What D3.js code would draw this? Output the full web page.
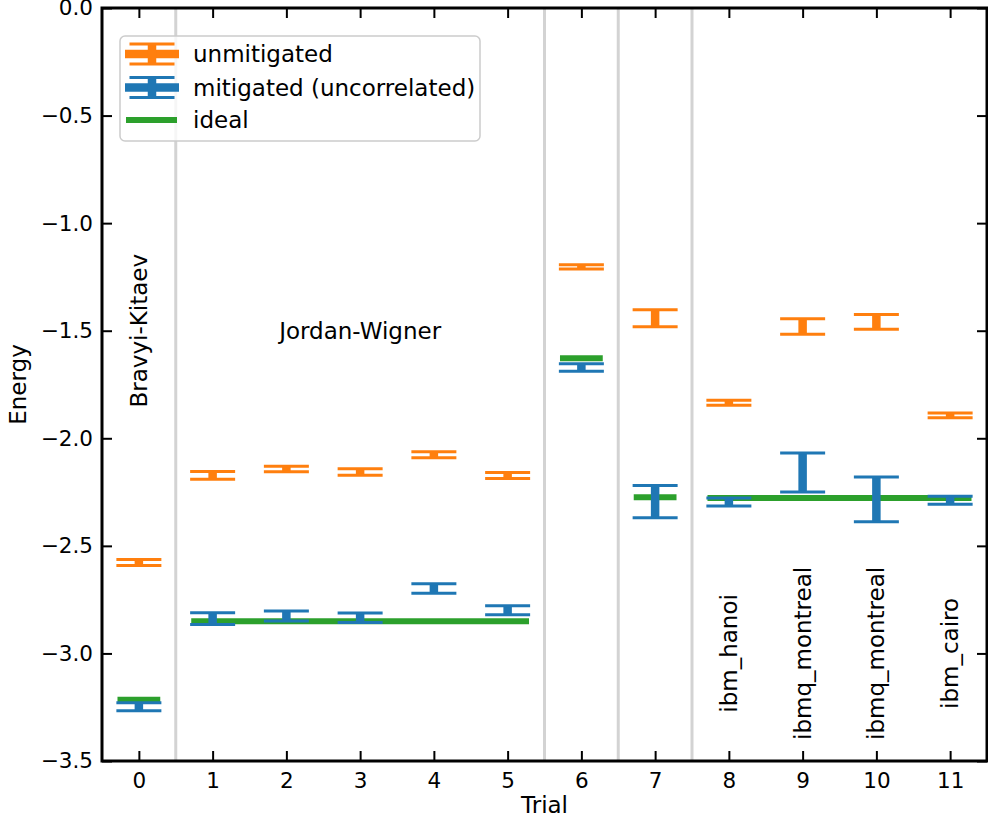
<!DOCTYPE html>
<html>
<head>
<meta charset="utf-8">
<script src="https://cdn.jsdelivr.net/npm/d3@7"></script>
<style>
  html, body { margin: 0; padding: 0; background: #fff; }
  text { font-family: "DejaVu Sans", sans-serif; }
</style>
</head>
<body>
<svg id="chart" width="988" height="824"></svg>
<script>
// ---------------- data ----------------
const trials = [0, 1, 2, 3, 4, 5, 6, 7, 8, 9, 10, 11];
const unmitigatedValues = [-2.577, -2.172, -2.143, -2.157, -2.077, -2.173, -1.203, -1.442, -1.835, -1.480, -1.459, -1.894];
const unmitigatedErrors = [0.014, 0.018, 0.013, 0.015, 0.014, 0.014, 0.010, 0.040, 0.012, 0.036, 0.034, 0.011];
const mitigatedValues = [-3.248, -2.838, -2.826, -2.834, -2.698, -2.799, -1.671, -2.294, -2.296, -2.159, -2.284, -2.288];
const mitigatedErrors = [0.019, 0.027, 0.023, 0.022, 0.022, 0.021, 0.017, 0.075, 0.019, 0.091, 0.104, 0.019];
const idealFrom = [0, 1, 6, 7, 8];
const idealTo = [0, 5, 6, 7, 11];
const idealValues = [-3.215, -2.850, -1.628, -2.274, -2.278];
const separators = [0.5, 5.5, 6.5, 7.5];
const yTicks = [0, -0.5, -1.0, -1.5, -2.0, -2.5, -3.0, -3.5];
const encodingLabels = ["Bravyi-Kitaev", "Jordan-Wigner"];
const encodingTrials = [0, 3];
const encodingY = [-1.5, -1.5];
const encodingRotated = [true, false];
const backendLabels = ["ibm_hanoi", "ibmq_montreal", "ibmq_montreal", "ibm_cairo"];
const backendTrials = [8, 9, 10, 11];
const backendY = -3.0;
const seriesNames = ["unmitigated", "mitigated (uncorrelated)", "ideal"];

// ---------------- layout ----------------
const C = { orange: "#ff7f0e", blue: "#1f77b4", green: "#2ca02c", sep: "#d3d3d3" };
const FS = 23, TFS = 21.5;
const L = 102, R = 987, T = 8, B = 761;
const svg = d3.select("#chart");

const x = d3.scaleLinear().domain([-0.5, 11.5]).range([L, R]);
const y = d3.scaleLinear().domain([-3.5, 0]).range([B, T]);

const capHalf = 22.5, stemW = 8.5, capW = 3, idealHalf = 0.29;

// separators
svg.append("g").selectAll("line").data(separators).join("line")
  .attr("x1", d => x(d)).attr("x2", d => x(d))
  .attr("y1", T).attr("y2", B)
  .attr("stroke", C.sep).attr("stroke-width", 3);

// ideal lines
svg.append("g").selectAll("line").data(idealValues).join("line")
  .attr("x1", (d, i) => x(idealFrom[i] - idealHalf))
  .attr("x2", (d, i) => x(idealTo[i] + idealHalf))
  .attr("y1", d => y(d)).attr("y2", d => y(d))
  .attr("stroke", C.green).attr("stroke-width", 6);

function errorbars(vals, errs, color) {
  const g = svg.append("g");
  const items = trials.map((t, i) => ({ t, v: vals[i], e: errs[i] }));
  g.selectAll(".stem").data(items).join("line")
    .attr("x1", d => x(d.t)).attr("x2", d => x(d.t))
    .attr("y1", d => y(d.v + d.e)).attr("y2", d => y(d.v - d.e))
    .attr("stroke", color).attr("stroke-width", stemW);
  ["top", "bot"].forEach(k => {
    g.selectAll(".cap-" + k).data(items).join("line")
      .attr("x1", d => x(d.t) - capHalf).attr("x2", d => x(d.t) + capHalf)
      .attr("y1", d => y(k === "top" ? d.v + d.e : d.v - d.e))
      .attr("y2", d => y(k === "top" ? d.v + d.e : d.v - d.e))
      .attr("stroke", color).attr("stroke-width", capW);
  });
}
errorbars(unmitigatedValues, unmitigatedErrors, C.orange);
errorbars(mitigatedValues, mitigatedErrors, C.blue);

// annotations
encodingLabels.forEach((s, i) => {
  const t = svg.append("text")
    .attr("text-anchor", "middle").attr("dominant-baseline", "central")
    .attr("font-size", FS).attr("fill", "#000").text(s);
  if (encodingRotated[i]) t.attr("transform", `translate(${x(encodingTrials[i])},${y(encodingY[i])}) rotate(-90)`);
  else t.attr("x", x(encodingTrials[i])).attr("y", y(encodingY[i]));
});
svg.append("g").selectAll("text").data(backendLabels).join("text")
  .attr("text-anchor", "middle").attr("dominant-baseline", "central")
  .attr("font-size", FS).attr("fill", "#000")
  .attr("transform", (d, i) => `translate(${x(backendTrials[i])},${y(backendY)}) rotate(-90)`)
  .text(d => d);

// axes
const fmt = d3.format(".1f");
const ax = [
  svg.append("g").attr("transform", `translate(${L},0)`).call(d3.axisLeft(y).tickValues(yTicks).tickFormat(fmt).tickSize(-10).tickPadding(9).tickSizeOuter(0)),
  svg.append("g").attr("transform", `translate(${R},0)`).call(d3.axisRight(y).tickValues(yTicks).tickFormat("").tickSize(-10).tickSizeOuter(0)),
  svg.append("g").attr("transform", `translate(0,${B})`).call(d3.axisBottom(x).tickValues(trials).tickFormat(d3.format("d")).tickSize(-10).tickPadding(12).tickSizeOuter(0)),
  svg.append("g").attr("transform", `translate(0,${T})`).call(d3.axisTop(x).tickValues(trials).tickFormat("").tickSize(-10).tickSizeOuter(0))
];
ax.forEach(g => {
  g.select(".domain").remove();
  g.selectAll(".tick line").attr("stroke", "#000").attr("stroke-width", 2);
  g.selectAll(".tick text").attr("font-size", TFS).attr("fill", "#000").attr("font-family", "DejaVu Sans");
});
svg.append("rect").attr("x", L).attr("y", T).attr("width", R - L).attr("height", B - T)
  .attr("fill", "none").attr("stroke", "#000").attr("stroke-width", 3);

// axis labels
svg.append("text").attr("x", (L + R) / 2).attr("y", 813).attr("text-anchor", "middle")
  .attr("font-size", FS).text("Trial");
svg.append("text").attr("transform", `translate(26,${(T + B) / 2}) rotate(-90)`).attr("text-anchor", "middle")
  .attr("font-size", FS).text("Energy");

// legend
const lg = svg.append("g");
lg.append("rect").attr("x", 120).attr("y", 36).attr("width", 360).attr("height", 105).attr("rx", 5)
  .attr("fill", "#fff").attr("fill-opacity", 0.8).attr("stroke", "#cccccc").attr("stroke-width", 1.5);
const rowY = [54, 87.5, 120];
const rowColor = [C.orange, C.blue, C.green];
seriesNames.forEach((name, i) => {
  const yy = rowY[i];
  if (i < 2) {
    lg.append("line").attr("x1", 125).attr("x2", 179).attr("y1", yy).attr("y2", yy)
      .attr("stroke", rowColor[i]).attr("stroke-width", stemW);
    lg.append("line").attr("x1", 152).attr("x2", 152).attr("y1", yy - 10).attr("y2", yy + 10)
      .attr("stroke", rowColor[i]).attr("stroke-width", stemW);
    [-10, 10].forEach(o => lg.append("line").attr("x1", 152 - capHalf).attr("x2", 152 + capHalf)
      .attr("y1", yy + o).attr("y2", yy + o).attr("stroke", rowColor[i]).attr("stroke-width", capW));
  } else {
    lg.append("line").attr("x1", 126).attr("x2", 177).attr("y1", yy).attr("y2", yy)
      .attr("stroke", rowColor[i]).attr("stroke-width", 6);
  }
  lg.append("text").attr("x", 193).attr("y", yy).attr("dy", "0.35em")
    .attr("font-size", FS).attr("fill", "#000").text(name);
});
</script>
</body>
</html>
